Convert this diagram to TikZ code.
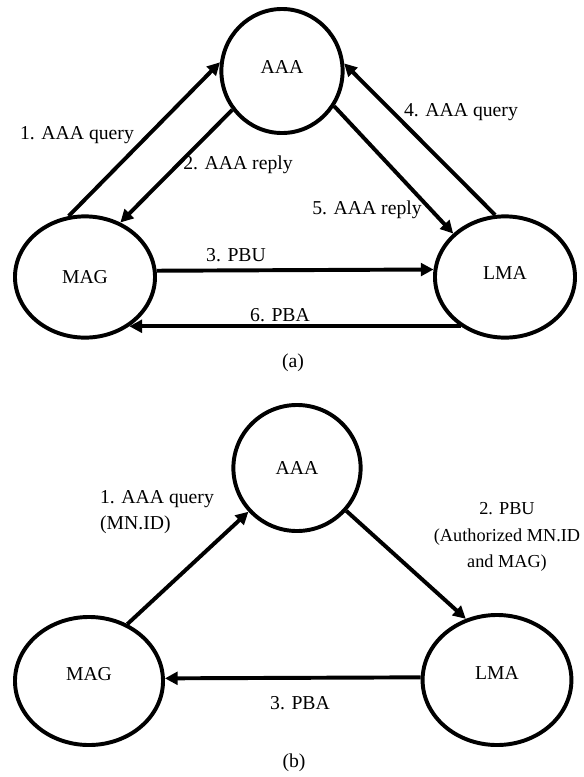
\documentclass[tikz,border=0pt]{standalone}
\usepackage{fontspec}
\setmainfont{Liberation Serif}
\usetikzlibrary{arrows.meta,shapes.geometric}
\tikzset{
	entity/.style={draw,ellipse,line width=2.8pt,inner sep=0pt,font=\fontsize{14}{19}\selectfont},
	msg/.style={line width=2.8pt,-{Triangle[length=9pt,width=9pt]}},
	lbl/.style={font=\fontsize{14}{19}\selectfont,inner sep=0pt},
}
\begin{document}
\begin{tikzpicture}[x=0.025cm,y=-0.025cm]
		\useasboundingbox (0,0) rectangle (584,777);
		% (a)
		\node[entity,minimum width=3.03cm,minimum height=3.1cm,text depth=5pt] (AAAa) at (282,71) {AAA};
		\node[entity,minimum width=3.5cm,minimum height=3.03cm] (MAGa) at (85,277) {MAG};
		\node[entity,minimum width=3.5cm,minimum height=3.03cm,text depth=6pt] (LMAa) at (505,277) {LMA};
		\draw[msg] (MAGa.105) -- (AAAa.172);
		\draw[msg] (AAAa.218) -- (MAGa.57);
		\draw[msg] (MAGa.5.6) -- (LMAa.174.4);
		\draw[msg] (LMAa.99) -- (AAAa.7);
		\draw[msg] (AAAa.326) -- (LMAa.140);
		\draw[msg] (LMAa.228) -- (MAGa.312);
		\node[lbl] (q1a) at (77,135) {1. AAA query};
		\node[lbl] (r2a) at (238,165) {2. AAA reply};
		\node[lbl] (u3a) at (236,255) {3. PBU};
		\node[lbl] (q4a) at (461,112) {4. AAA query};
		\node[lbl] (r5a) at (367,210) {5. AAA reply};
		\node[lbl] (a6a) at (280,315) {6. PBA};
		\node[lbl] (capa) at (293,363) {(a)};
		% (b)
		\node[entity,minimum width=3.18cm,minimum height=3.15cm] (AAAb) at (297,468) {AAA};
		\node[entity,minimum width=3.7cm,minimum height=3.2cm,text depth=10pt] (MAGb) at (89,681) {MAG};
		\node[entity,minimum width=3.72cm,minimum height=3.25cm,text depth=10pt] (LMAb) at (497,680) {LMA};
		\draw[msg] (MAGb.56) -- (AAAb.222);
		\draw[msg] (AAAb.319) -- (LMAb.117);
		\draw[msg] (LMAb.178) -- (MAGb.2);
		\node[lbl,align=left] (q1b) at (157,512) {1. AAA query\\(MN.ID)};
		\node[lbl,align=center,font=\fontsize{13}{19}\selectfont] (u2b) at (507,537) {2. PBU\\(Authorized MN.ID\\and MAG)};
		\node[lbl] (a3b) at (300,703) {3. PBA};
		\node[lbl] (capb) at (294,763) {(b)};
	\end{tikzpicture}
\end{document}
